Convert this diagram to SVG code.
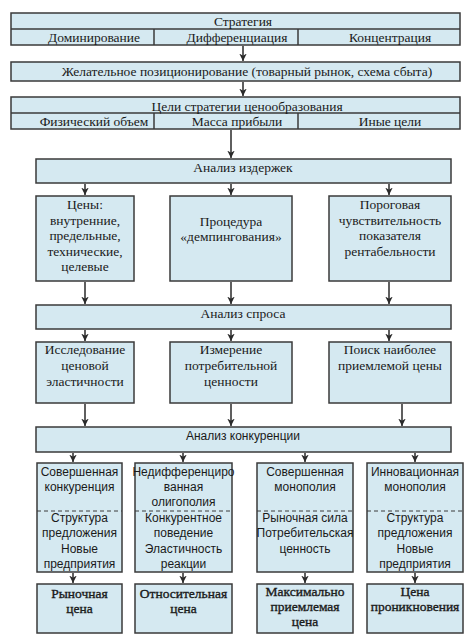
<svg xmlns="http://www.w3.org/2000/svg" width="474" height="640" viewBox="0 0 474 640">
<defs>
<style>
.bx{fill:#d5e9f1;stroke:#3a3a3a;stroke-width:1.5}
.ln{stroke:#3a3a3a;stroke-width:1.5;fill:none}
.dash{stroke:#3a3a3a;stroke-width:1;stroke-dasharray:4,3;fill:none}
.s{font-family:"Liberation Serif","Times New Roman",serif;font-size:13.5px;fill:#1a1a1a;text-anchor:middle}
.b{font-family:"Liberation Serif","Times New Roman",serif;font-size:13.5px;fill:#1a1a1a;stroke:#1a1a1a;stroke-width:0.35;text-anchor:middle}
.a{font-family:"Liberation Sans",Arial,sans-serif;font-size:12px;fill:#1a1a1a;text-anchor:middle}
.c{stroke:#2a2a2a;stroke-width:1.5;fill:none;marker-end:url(#ah)}
</style>
<marker id="ah" viewBox="0 0 10 10" refX="10" refY="5" markerWidth="5" markerHeight="5" markerUnits="strokeWidth" orient="auto">
<path d="M0,0 L10,5 L0,10 L3,5 Z" fill="#2a2a2a"/>
</marker>
</defs>
<rect width="474" height="640" fill="#ffffff"/>

<g id="strategy">
<rect class="bx" x="11" y="13" width="449" height="32"/>
<line class="ln" x1="11" y1="29" x2="460" y2="29"/>
<line class="ln" x1="154" y1="29" x2="154" y2="45"/>
<line class="ln" x1="298" y1="29" x2="298" y2="45"/>
<text class="s" x="243" y="26">Стратегия</text>
<text class="s" x="94" y="42">Доминирование</text>
<text class="s" x="237" y="42">Дифференциация</text>
<text class="s" x="390" y="42">Концентрация</text>
</g>

<g id="positioning">
<rect class="bx" x="11" y="62" width="449" height="19"/>
<text class="s" x="247" y="76">Желательное позиционирование (товарный рынок, схема сбыта)</text>
</g>

<g id="goals">
<rect class="bx" x="11" y="97" width="449" height="32"/>
<line class="ln" x1="11" y1="113" x2="460" y2="113"/>
<line class="ln" x1="154" y1="113" x2="154" y2="129"/>
<line class="ln" x1="298" y1="113" x2="298" y2="129"/>
<text class="s" x="247" y="111">Цели стратегии ценообразования</text>
<text class="s" x="94" y="126">Физический объем</text>
<text class="s" x="237" y="126">Масса прибыли</text>
<text class="s" x="390" y="126">Иные цели</text>
</g>

<g id="costs">
<rect class="bx" x="36" y="159" width="415" height="24"/>
<text class="s" x="243" y="172">Анализ издержек</text>
</g>

<g id="prices">
<rect class="bx" x="36" y="196" width="98" height="85"/>
<text class="s" x="85" y="209">Цены:</text>
<text class="s" x="85" y="225">внутренние,</text>
<text class="s" x="85" y="240">предельные,</text>
<text class="s" x="85" y="256">технические,</text>
<text class="s" x="85" y="271">целевые</text>
</g>

<g id="dumping">
<rect class="bx" x="170" y="196" width="122" height="85"/>
<text class="s" x="231" y="226">Процедура</text>
<text class="s" x="231" y="241">«демпингования»</text>
</g>

<g id="threshold">
<rect class="bx" x="329" y="196" width="122" height="85"/>
<text class="s" x="390" y="209">Пороговая</text>
<text class="s" x="390" y="225">чувствительность</text>
<text class="s" x="390" y="240">показателя</text>
<text class="s" x="390" y="256">рентабельности</text>
</g>

<g id="demand">
<rect class="bx" x="36" y="305" width="415" height="24"/>
<text class="s" x="243" y="318">Анализ спроса</text>
</g>

<g id="elasticity">
<rect class="bx" x="36" y="342" width="98" height="61"/>
<text class="s" x="85" y="354">Исследование</text>
<text class="s" x="85" y="370">ценовой</text>
<text class="s" x="85" y="386">эластичности</text>
</g>

<g id="value">
<rect class="bx" x="170" y="342" width="122" height="61"/>
<text class="s" x="231" y="354">Измерение</text>
<text class="s" x="231" y="370">потребительной</text>
<text class="s" x="231" y="386">ценности</text>
</g>

<g id="search">
<rect class="bx" x="329" y="342" width="122" height="61"/>
<text class="s" x="390" y="354">Поиск наиболее</text>
<text class="s" x="390" y="370">приемлемой цены</text>
</g>

<g id="competition">
<rect class="bx" x="36" y="427" width="415" height="25"/>
<text class="a" x="243" y="440">Анализ конкуренции</text>
</g>

<g id="perfect-competition">
<rect class="bx" x="37" y="463" width="85" height="109"/>
<line class="dash" x1="37" y1="511" x2="122" y2="511"/>
<text class="a" x="79.5" y="476">Совершенная</text>
<text class="a" x="79.5" y="491">конкуренция</text>
<text class="a" x="79.5" y="522">Структура</text>
<text class="a" x="79.5" y="537">предложения</text>
<text class="a" x="79.5" y="553">Новые</text>
<text class="a" x="79.5" y="568">предприятия</text>
</g>

<g id="oligopoly">
<rect class="bx" x="135" y="463" width="97" height="109"/>
<line class="dash" x1="135" y1="511" x2="232" y2="511"/>
<text class="a" x="183.5" y="476">Недифференциро</text>
<text class="a" x="183.5" y="491">ванная</text>
<text class="a" x="183.5" y="506">олигополия</text>
<text class="a" x="183.5" y="522">Конкурентное</text>
<text class="a" x="183.5" y="537">поведение</text>
<text class="a" x="183.5" y="553">Эластичность</text>
<text class="a" x="183.5" y="568">реакции</text>
</g>

<g id="perfect-monopoly">
<rect class="bx" x="257" y="463" width="96" height="109"/>
<line class="dash" x1="257" y1="511" x2="353" y2="511"/>
<text class="a" x="305" y="476">Совершенная</text>
<text class="a" x="305" y="491">монополия</text>
<text class="a" x="305" y="522">Рыночная сила</text>
<text class="a" x="305" y="537">Потребительская</text>
<text class="a" x="305" y="553">ценность</text>
</g>

<g id="innovation-monopoly">
<rect class="bx" x="367" y="463" width="96" height="109"/>
<line class="dash" x1="367" y1="511" x2="463" y2="511"/>
<text class="a" x="415" y="476">Инновационная</text>
<text class="a" x="415" y="491">монополия</text>
<text class="a" x="415" y="522">Структура</text>
<text class="a" x="415" y="537">предложения</text>
<text class="a" x="415" y="553">Новые</text>
<text class="a" x="415" y="568">предприятия</text>
</g>

<g id="market-price">
<rect class="bx" x="37" y="584" width="85" height="49"/>
<text class="b" x="79.5" y="598">Рыночная</text>
<text class="b" x="79.5" y="613">цена</text>
</g>

<g id="relative-price">
<rect class="bx" x="135" y="584" width="97" height="49"/>
<text class="b" x="183.5" y="598">Относительная</text>
<text class="b" x="183.5" y="613">цена</text>
</g>

<g id="max-price">
<rect class="bx" x="257" y="584" width="96" height="49"/>
<text class="b" x="305" y="596">Максимально</text>
<text class="b" x="305" y="611">приемлемая</text>
<text class="b" x="305" y="626">цена</text>
</g>

<g id="penetration-price">
<rect class="bx" x="367" y="584" width="96" height="49"/>
<text class="b" x="415" y="596">Цена</text>
<text class="b" x="415" y="611">проникновения</text>
</g>

<g id="connectors">
<line class="c" x1="243" y1="46" x2="243" y2="61"/>
<line class="c" x1="243" y1="82" x2="243" y2="96"/>
<line class="c" x1="231" y1="130" x2="231" y2="158"/>
<line class="c" x1="85" y1="184" x2="85" y2="195"/>
<line class="c" x1="231" y1="184" x2="231" y2="195"/>
<line class="c" x1="389" y1="184" x2="389" y2="195"/>
<line class="c" x1="85" y1="282" x2="85" y2="304"/>
<line class="c" x1="231" y1="282" x2="231" y2="304"/>
<line class="c" x1="389" y1="282" x2="389" y2="304"/>
<line class="c" x1="85" y1="330" x2="85" y2="341"/>
<line class="c" x1="231" y1="330" x2="231" y2="341"/>
<line class="c" x1="389" y1="330" x2="389" y2="341"/>
<line class="c" x1="85" y1="404" x2="85" y2="426"/>
<line class="c" x1="231" y1="404" x2="231" y2="426"/>
<line class="c" x1="402" y1="404" x2="402" y2="426"/>
<line class="c" x1="73" y1="453" x2="73" y2="462"/>
<line class="c" x1="183" y1="453" x2="183" y2="462"/>
<line class="c" x1="305" y1="453" x2="305" y2="462"/>
<line class="c" x1="415" y1="453" x2="415" y2="462"/>
<line class="c" x1="73" y1="573" x2="73" y2="583"/>
<line class="c" x1="183" y1="573" x2="183" y2="583"/>
<line class="c" x1="305" y1="573" x2="305" y2="583"/>
<line class="c" x1="415" y1="573" x2="415" y2="583"/>
</g>
</svg>
